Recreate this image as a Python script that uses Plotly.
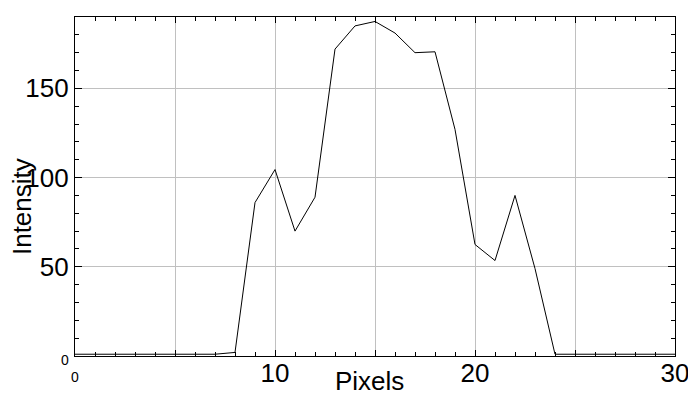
import plotly.graph_objects as go

# Data
pixels = list(range(0, 31))
intensity = [1, 1, 1, 1, 1, 1, 1, 1, 2, 86, 104.5, 70, 89, 172, 185, 187.5, 181,
             170, 170.5, 127, 62.5, 53.5, 90, 49, 1, 1, 1, 1, 1, 1, 1]

x_tickvals = [0, 5, 10, 15, 20, 25, 30]
x_ticktext = ["<span style='font-size:14px'>0</span>", "", "10", "", "20", "", "30"]
y_tickvals = [0, 50, 100, 150]
y_ticktext = ["<span style='font-size:14px'>0</span>", "50", "100", "150"]

FONT = "Liberation Sans, Arial, sans-serif"

fig = go.Figure()
fig.add_trace(go.Scatter(x=pixels, y=intensity, mode="lines",
                         line=dict(color="black", width=1), showlegend=False))

# page body has an 8px margin, so the figure is sized/offset to compensate
fig.update_layout(
    width=688, height=397,
    margin=dict(l=67, r=21, t=9, b=49),
    paper_bgcolor="white", plot_bgcolor="white",
    font=dict(family=FONT, color="black"),
    xaxis=dict(
        range=[0, 30], tickvals=x_tickvals, ticktext=x_ticktext,
        automargin=False,
        showgrid=True, gridcolor="#c0c0c0", gridwidth=1,
        showline=True, linecolor="black", linewidth=1.2, mirror="allticks",
        ticks="inside", ticklen=6, tickcolor="black",
        tickfont=dict(size=26, family=FONT, color="black"),
        ticklabelstandoff=-6,
        minor=dict(dtick=1, ticks="inside", ticklen=4, tickcolor="black", showgrid=False),
        zeroline=False,
    ),
    yaxis=dict(
        range=[0, 190], tickvals=y_tickvals, ticktext=y_ticktext,
        automargin=False,
        showgrid=True, gridcolor="#c0c0c0", gridwidth=1,
        showline=True, linecolor="black", linewidth=1.2, mirror="allticks",
        ticks="inside", ticklen=7, tickcolor="black",
        tickfont=dict(size=26, family=FONT, color="black"),
        minor=dict(dtick=10, ticks="inside", ticklen=4, tickcolor="black", showgrid=False),
        zeroline=False,
    ),
    annotations=[
        dict(text="Pixels", xref="paper", yref="paper", x=0.49, y=-0.074,
             xanchor="center", yanchor="middle", showarrow=False,
             font=dict(size=26, family=FONT, color="black")),
        dict(text="Intensity", xref="paper", yref="paper", x=-0.088, y=0.44,
             xanchor="center", yanchor="middle", textangle=-90, showarrow=False,
             font=dict(size=26, family=FONT, color="black")),
    ],
)

fig.write_html("out.html")
